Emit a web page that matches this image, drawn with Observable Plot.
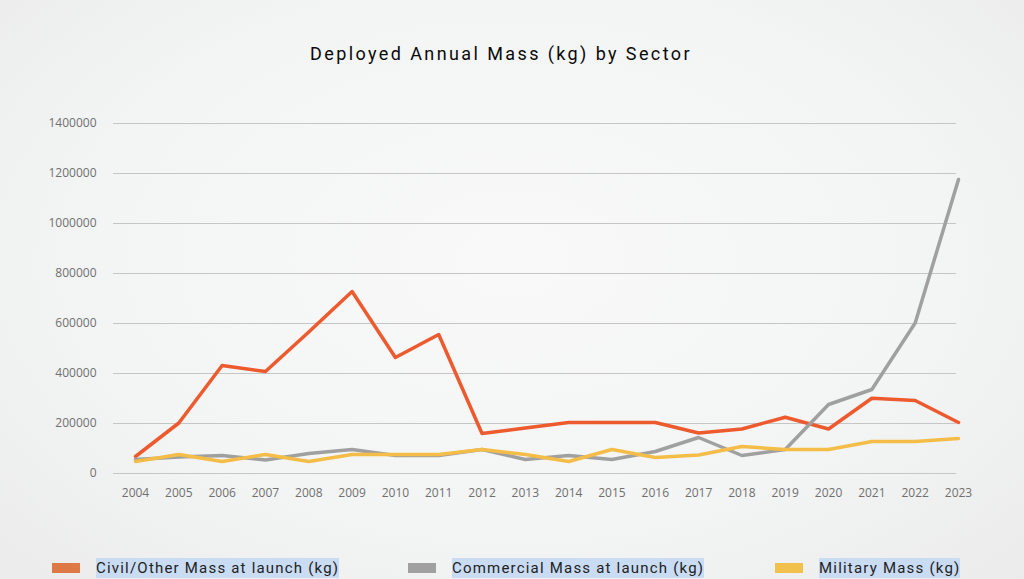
<!DOCTYPE html>
<html>
<head>
<meta charset="utf-8">
<script src="https://cdn.jsdelivr.net/npm/d3@7"></script>
<script src="https://cdn.jsdelivr.net/npm/@observablehq/plot@0.6"></script>
<style>
  html, body { margin: 0; padding: 0; }
  #wrap {
    position: relative; width: 1024px; height: 579px; overflow: hidden;
    background: radial-gradient(ellipse at 50% 45%, #f9f9f9 0%, #f3f4f4 60%, #ebebeb 100%);
    font-family: Roboto, "Noto Sans", sans-serif;
  }
  #title {
    position: absolute; top: 43px; left: -11px; width: 1024px; text-align: center;
    font-size: 18px; font-weight: 400; letter-spacing: 2.4px; color: #0a0a0a;
  }
  #chart { position: absolute; top: 80px; left: 0; }
  .leg { position: absolute; top: 558px; display: flex; align-items: center; }
  .sw { width: 28px; height: 10px; margin-right: 16px; }
  .lt { font-size: 15px; letter-spacing: 1.2px; color: #222; background: #c9dcf3; padding: 1px 0; line-height: 18px; }
</style>
</head>
<body>
<div id="wrap">
  <div id="title">Deployed Annual Mass (kg) by Sector</div>
  <div id="chart"></div>
  <div id="legend"></div>
</div>
<script>
const years = [2004,2005,2006,2007,2008,2009,2010,2011,2012,2013,2014,2015,2016,2017,2018,2019,2020,2021,2022,2023];
const civil = [68000,202000,432000,408000,566000,728000,464000,556000,160000,182000,204000,204000,204000,162000,178000,225000,178000,301000,292000,204000];
const commercial = [56000,66000,72000,54000,80000,96000,72000,72000,96000,56000,72000,56000,88000,144000,72000,96000,276000,336000,602000,1176000];
const military = [48000,76000,48000,76000,48000,76000,76000,76000,96000,76000,48000,96000,64000,74000,108000,96000,96000,128000,128000,140000];
const seriesNames = ["Civil/Other Mass at launch (kg)", "Commercial Mass at launch (kg)", "Military Mass (kg)"];
const lineColors = ["#ec5a2e", "#a0a0a0", "#f4bd47"];
const swatchColors = ["#dd7945", "#a0a0a0", "#f2c04c"];
const yTicks = [0,200000,400000,600000,800000,1000000,1200000,1400000];
const legendLeft = [52, 408, 775];

const seriesValues = [civil, commercial, military];
const rows = [];
seriesNames.forEach((s, i) => years.forEach((y, j) => rows.push({series: s, year: y, value: seriesValues[i][j]})));

const chart = Plot.plot({
  width: 1024,
  height: 430,
  marginLeft: 135,
  marginRight: 66,
  marginTop: 43,
  marginBottom: 37,
  style: {background: "transparent", fontFamily: "'Open Sans', 'Noto Sans', sans-serif"},
  x: {domain: [2004, 2023]},
  y: {domain: [0, 1400000]},
  color: {domain: seriesNames, range: lineColors},
  marks: [
    Plot.ruleY(yTicks, {stroke: "#c6c6c6", strokeWidth: 1, insetLeft: -22, insetRight: 2}),
    Plot.axisY({ticks: yTicks, tickSize: 0, tickPadding: 39, tickFormat: d => String(d), fontSize: 12, fill: "#707070", label: null}),
    Plot.axisX({ticks: years, tickSize: 0, tickPadding: 15, tickFormat: d => String(d), fontSize: 12, fill: "#707070", label: null}),
    Plot.line(rows, {x: "year", y: "value", z: "series", stroke: "series", strokeWidth: 3.5, strokeLinejoin: "round", strokeLinecap: "round"})
  ]
});
document.getElementById("chart").appendChild(chart);

const legend = document.getElementById("legend");
seriesNames.forEach((s, i) => {
  const item = document.createElement("div");
  item.className = "leg";
  item.style.left = legendLeft[i] + "px";
  item.innerHTML = `<div class="sw" style="background:${swatchColors[i]}"></div><span class="lt">${s}</span>`;
  legend.appendChild(item);
});
</script>
</body>
</html>
